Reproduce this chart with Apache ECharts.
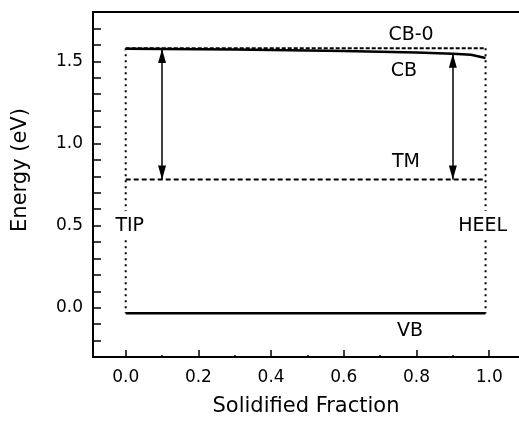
<!DOCTYPE html>
<html>
<head>
<meta charset="utf-8">
<script src="https://cdn.jsdelivr.net/npm/echarts@6/dist/echarts.min.js"></script>
<style>
  html, body { margin: 0; padding: 0; background: #fff; }
  #chart { width: 519px; height: 422px; }
</style>
</head>
<body>
<div id="chart"></div>
<script>
var chart = echarts.init(document.getElementById('chart'));

// conduction band along the ingot
var cbX = [0, 0.1, 0.2, 0.3, 0.4, 0.5, 0.6, 0.7, 0.8, 0.9, 0.95, 0.99];
var cbY = [1.576, 1.575, 1.574, 1.572, 1.569, 1.566, 1.562, 1.558, 1.553, 1.546, 1.54, 1.52];
// flat levels
var cb0X = [0, 0.99], cb0Y = [1.58, 1.58];
var tmX = [0, 0.99], tmY = [0.781, 0.781];
var vbX = [0, 0.99], vbY = [-0.033, -0.033];
// TIP / HEEL dotted edges
var tipX = [0, 0], tipY = [1.58, -0.033];
var heelX = [0.99, 0.99], heelY = [1.58, -0.033];
// double arrows: x, top, bottom
var arrowX = [0.1, 0.9];
var arrowTop = [1.575, 1.546];
var arrowBottom = [0.781, 0.781];
// text labels
var labelText = ['CB-0', 'CB', 'TM', 'VB', 'TIP', 'HEEL'];
var labelX = [0.785, 0.765, 0.771, 0.782, 0.011, 0.982];
var labelY = [1.66, 1.44, 0.885, -0.14, 0.5, 0.5];
// ticks
var xMajor = [0, 0.2, 0.4, 0.6, 0.8, 1.0];
var xMinor = [0.1, 0.3, 0.5, 0.7, 0.9];

var FONT = 'DejaVu Sans';

function pairs(xs, ys) {
    return xs.map(function (x, i) { return [x, ys[i]]; });
}

function plainLine(name, xs, ys, width, type) {
    return {
        name: name,
        type: 'line',
        xAxisIndex: 0,
        yAxisIndex: 0,
        showSymbol: false,
        symbol: 'none',
        silent: true,
        lineStyle: { color: '#000', width: width, type: type },
        data: pairs(xs, ys),
        z: 3
    };
}

// the frame runs past the right edge of the picture, so no right border
var gridBox = { left: 93, right: 0, top: 12, bottom: 64 };
var X_MIN = -0.09, X_MAX = 1.082;

var cbSeries = plainLine('CB', cbX, cbY, 2.5, 'solid');
// double headed arrows between CB and TM
cbSeries.markLine = {
    silent: true,
    animation: false,
    symbol: ['triangle', 'triangle'],
    symbolSize: [8, 14],
    symbolOffset: [[0, 7], [0, 7]],
    label: { show: false },
    lineStyle: { color: '#000', width: 1.5, type: 'solid' },
    data: arrowX.map(function (x, i) {
        return [{ coord: [x, arrowTop[i]] }, { coord: [x, arrowBottom[i]] }];
    })
};

option = {
    animation: false,
    textStyle: { fontFamily: FONT },
    grid: [
        Object.assign({}, gridBox),
        Object.assign({}, gridBox)
    ],
    xAxis: [{
        gridIndex: 0,
        type: 'value',
        min: X_MIN,
        max: X_MAX,
        name: 'Solidified Fraction',
        nameLocation: 'middle',
        nameGap: 39,
        nameTextStyle: { color: '#000', fontSize: 21, fontFamily: FONT },
        axisLine: { onZero: false, lineStyle: { color: '#000', width: 2 } },
        axisTick: { inside: true, length: 7, customValues: xMajor, lineStyle: { color: '#000', width: 1.5 } },
        axisLabel: {
            customValues: xMajor,
            margin: 12,
            color: '#000',
            fontSize: 17,
            fontFamily: FONT,
            formatter: function (v) { return v.toFixed(1); }
        },
        splitLine: { show: false }
    }, {
        gridIndex: 1,
        type: 'value',
        min: X_MIN,
        max: X_MAX,
        axisLine: { show: false, onZero: false },
        axisTick: { inside: true, length: 3, customValues: xMinor, lineStyle: { color: '#000', width: 1.5 } },
        axisLabel: { show: false },
        splitLine: { show: false }
    }, {
        gridIndex: 0,
        type: 'value',
        position: 'top',
        min: X_MIN,
        max: X_MAX,
        axisLine: { show: true, onZero: false, lineStyle: { color: '#000', width: 2 } },
        axisTick: { show: false },
        axisLabel: { show: false },
        splitLine: { show: false }
    }],
    yAxis: [{
        gridIndex: 0,
        type: 'value',
        min: -0.3,
        max: 1.8,
        interval: 0.1,
        axisLine: { show: true, onZero: false, lineStyle: { color: '#000', width: 2 } },
        axisTick: { inside: true, length: 8, lineStyle: { color: '#000', width: 1.5 } },
        axisLabel: {
            margin: 10,
            color: '#000',
            fontSize: 17,
            fontFamily: FONT,
            formatter: function (v) {
                var h = v * 2;
                return Math.abs(h - Math.round(h)) < 1e-6 && v < 1.75 ? v.toFixed(1) : '';
            }
        },
        splitLine: { show: false }
    }, {
        gridIndex: 1,
        type: 'value',
        min: -0.3,
        max: 1.8,
        axisLine: { show: false, onZero: false },
        axisTick: { show: false },
        axisLabel: { show: false },
        splitLine: { show: false }
    }],
    graphic: [{
        type: 'text',
        rotation: Math.PI / 2,
        x: 21,
        y: 170,
        style: {
            text: 'Energy (eV)',
            fontSize: 21,
            fontFamily: FONT,
            fill: '#000',
            align: 'center',
            verticalAlign: 'middle'
        }
    }],
    series: [
        plainLine('CB-0', cb0X, cb0Y, 2, [4, 2]),
        plainLine('TM', tmX, tmY, 2, [5, 3]),
        plainLine('TIP', tipX, tipY, 2, [2, 4]),
        plainLine('HEEL', heelX, heelY, 2, [2, 4]),
        cbSeries,
        plainLine('VB', vbX, vbY, 2.5, 'solid'),
        {
            name: 'labels',
            type: 'scatter',
            xAxisIndex: 0,
            yAxisIndex: 0,
            symbolSize: 0,
            itemStyle: { color: '#000', opacity: 1 },
            silent: true,
            label: {
                show: true,
                position: 'inside',
                color: '#000',
                opacity: 1,
                textBorderWidth: 0,
                fontSize: 19,
                fontFamily: FONT,
                formatter: function (p) { return p.name; }
            },
            data: labelText.map(function (t, i) {
                var item = { name: t, value: [labelX[i], labelY[i]] };
                // the edge labels blank out the dotted TIP / HEEL lines behind them
                if (t === 'TIP' || t === 'HEEL') {
                    item.label = { backgroundColor: '#fff', padding: [5, 1] };
                }
                return item;
            }),
            z: 5
        }
    ]
};

chart.setOption(option);
</script>
</body>
</html>
